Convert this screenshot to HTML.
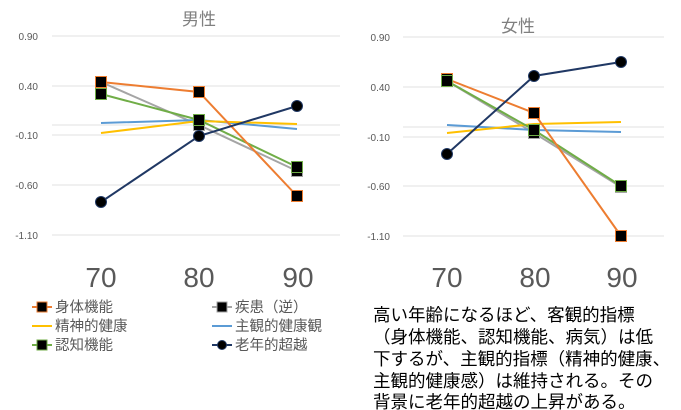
<!DOCTYPE html>
<html><head><meta charset="utf-8"><style>
body{margin:0;background:#fff;width:681px;height:410px;overflow:hidden}
svg{position:absolute;left:0;top:0}
.t{font-family:"Liberation Sans","Noto Sans CJK JP",sans-serif}
</style></head><body>
<svg width="681" height="410" class="t">
<defs>
<g id="sq"><rect x="-5.5" y="-5.5" width="11" height="11" fill="#000"/></g>
</defs>
<!-- Left chart -->
<text x="199" y="25" font-size="17" fill="#7f7f7f" text-anchor="middle">男性</text>
<g stroke="#e2e2e2" stroke-width="1">
<line x1="52" y1="36" x2="340" y2="36"/><line x1="52" y1="86" x2="340" y2="86"/><line x1="52" y1="125" x2="340" y2="125"/><line x1="52" y1="135" x2="340" y2="135"/><line x1="52" y1="185" x2="340" y2="185"/><line x1="52" y1="235" x2="340" y2="235"/>
</g>
<g font-size="10" fill="#595959" text-anchor="end">
<text x="38" y="40">0.90</text><text x="38" y="90">0.40</text><text x="38" y="139">-0.10</text><text x="38" y="189">-0.60</text><text x="38" y="239">-1.10</text>
</g>
<g fill="none" stroke-width="2">
<polyline points="101,82 199,125 297,171" stroke="#a5a5a5"/>
<polyline points="101,123 199,120 297,129" stroke="#5b9bd5"/>
<polyline points="101,133 199,121 297,124" stroke="#ffc000"/>
<polyline points="101,94 199,120 297,167" stroke="#70ad47"/>
<polyline points="101,82 199,92 297,196" stroke="#ed7d31"/>
<polyline points="101,202 199,136 297,106" stroke="#203864"/>
</g>
<g stroke="#ed7d31" stroke-width="1"><use href="#sq" x="101" y="82"/><use href="#sq" x="199" y="92"/><use href="#sq" x="297" y="196"/></g>
<g stroke="#a5a5a5" stroke-width="1"><use href="#sq" x="199" y="125"/><use href="#sq" x="297" y="171"/></g>
<g stroke="#70ad47" stroke-width="1"><use href="#sq" x="101" y="94"/><use href="#sq" x="199" y="120"/><use href="#sq" x="297" y="167"/></g>
<g fill="#000" stroke="#203864"><circle cx="101" cy="202" r="5.5"/><circle cx="199" cy="136" r="5.5"/><circle cx="297" cy="106" r="5.5"/></g>
<g font-size="28" fill="#595959" text-anchor="middle"><text x="101" y="287">70</text><text x="199" y="287">80</text><text x="298" y="287">90</text></g>

<!-- Right chart -->
<text x="518" y="32" font-size="17" fill="#7f7f7f" text-anchor="middle">女性</text>
<g stroke="#e2e2e2" stroke-width="1">
<line x1="403" y1="37" x2="664" y2="37"/><line x1="403" y1="87" x2="664" y2="87"/><line x1="403" y1="127" x2="664" y2="127"/><line x1="403" y1="137" x2="664" y2="137"/><line x1="403" y1="186" x2="664" y2="186"/><line x1="403" y1="236" x2="664" y2="236"/>
</g>
<g font-size="10" fill="#595959" text-anchor="end">
<text x="390" y="41">0.90</text><text x="390" y="91">0.40</text><text x="390" y="141">-0.10</text><text x="390" y="190">-0.60</text><text x="390" y="240">-1.10</text>
</g>
<g fill="none" stroke-width="2">
<polyline points="447,81 534,133 621,187" stroke="#a5a5a5"/>
<polyline points="447,125 534,130 621,132" stroke="#5b9bd5"/>
<polyline points="447,133 534,124 621,122" stroke="#ffc000"/>
<polyline points="447,81 534,130 621,186" stroke="#70ad47"/>
<polyline points="447,79 534,113 621,236" stroke="#ed7d31"/>
<polyline points="447,154 534,76 621,62" stroke="#203864"/>
</g>
<g stroke="#ed7d31" stroke-width="1"><use href="#sq" x="447" y="79"/><use href="#sq" x="534" y="113"/><use href="#sq" x="621" y="236"/></g>
<g stroke="#a5a5a5" stroke-width="1"><use href="#sq" x="534" y="133"/><use href="#sq" x="621" y="187"/></g>
<g stroke="#70ad47" stroke-width="1"><use href="#sq" x="447" y="81"/><use href="#sq" x="534" y="130"/><use href="#sq" x="621" y="186"/></g>
<g fill="#000" stroke="#203864"><circle cx="447" cy="154" r="5.5"/><circle cx="534" cy="76" r="5.5"/><circle cx="621" cy="62" r="5.5"/></g>
<g font-size="28" fill="#595959" text-anchor="middle"><text x="447" y="287">70</text><text x="535" y="287">80</text><text x="622" y="287">90</text></g>

<!-- Legend -->
<g stroke-width="2">
<line x1="32" y1="307" x2="52" y2="307" stroke="#ed7d31"/><rect x="37" y="302" width="10" height="10" fill="#000" stroke="#ed7d31" stroke-width="1"/>
<line x1="32" y1="326" x2="52" y2="326" stroke="#ffc000"/>
<line x1="32" y1="345" x2="52" y2="345" stroke="#70ad47"/><rect x="37" y="340" width="10" height="10" fill="#000" stroke="#70ad47" stroke-width="1"/>
<line x1="212" y1="307" x2="232" y2="307" stroke="#a5a5a5"/><rect x="217" y="302" width="10" height="10" fill="#000" stroke="#a5a5a5" stroke-width="1"/>
<line x1="212" y1="326" x2="232" y2="326" stroke="#5b9bd5"/>
<line x1="212" y1="345" x2="232" y2="345" stroke="#203864"/><circle cx="222" cy="345" r="4.5" fill="#000" stroke="#203864" stroke-width="1"/>
</g>
<g font-size="14.5" fill="#595959">
<text x="55" y="312">身体機能</text><text x="55" y="331">精神的健康</text><text x="55" y="350">認知機能</text>
<text x="235" y="312">疾患（逆）</text><text x="235" y="331">主観的健康観</text><text x="235" y="350">老年的超越</text>
</g>
<!-- Description -->
<g font-size="17.5" fill="#000">
<text x="373" y="321">高い年齢になるほど、客観的指標</text>
<text x="373" y="343">（身体機能、認知機能、病気）は低</text>
<text x="373" y="365">下するが、主観的指標（精神的健康、</text>
<text x="373" y="387">主観的健康感）は維持される。その</text>
<text x="373" y="408">背景に老年的超越の上昇がある。</text>
</g>
</svg>
</body></html>
